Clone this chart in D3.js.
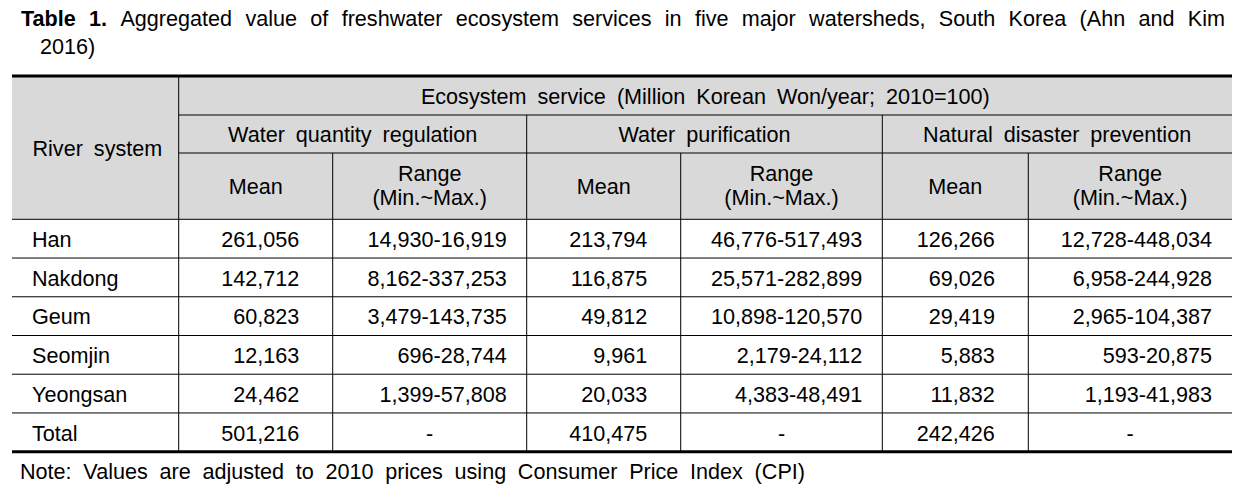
<!DOCTYPE html>
<html>
<head>
<meta charset="utf-8">
<script src="https://cdn.jsdelivr.net/npm/d3@7"></script>
<style>
  html, body { margin: 0; padding: 0; background: #fff; }
  svg text { font-family: "Liberation Sans", Arial, sans-serif; fill: #000; }
</style>
</head>
<body>
<svg id="chart" width="1256" height="504"></svg>
<script>
// ---- data ----
const titleBold = ["Table", "1."];
const titleWords = ["Aggregated", "value", "of", "freshwater", "ecosystem", "services", "in", "five", "major", "watersheds,", "South", "Korea", "(Ahn", "and", "Kim"];
const titleLine2 = "2016)";
const noteText = "Note: Values are adjusted to 2010 prices using Consumer Price Index (CPI)";
const topHeader = "Ecosystem service (Million Korean Won/year; 2010=100)";
const services = ["Water quantity regulation", "Water purification", "Natural disaster prevention"];
const subHeaders = ["Mean", "Range"];
const rangeSub = "(Min.~Max.)";
const rowHeader = "River system";
const rivers = ["Han", "Nakdong", "Geum", "Seomjin", "Yeongsan", "Total"];
const wqrMean = [261056, 142712, 60823, 12163, 24462, 501216];
const wqrRange = ["14,930-16,919", "8,162-337,253", "3,479-143,735", "696-28,744", "1,399-57,808", "-"];
const wpMean = [213794, 116875, 49812, 9961, 20033, 410475];
const wpRange = ["46,776-517,493", "25,571-282,899", "10,898-120,570", "2,179-24,112", "4,383-48,491", "-"];
const ndpMean = [126266, 69026, 29419, 5883, 11832, 242426];
const ndpRange = ["12,728-448,034", "6,958-244,928", "2,965-104,387", "593-20,875", "1,193-41,983", "-"];

// ---- layout ----
const FS = 21.6;
const colEdges = [12, 178.7, 332.7, 526.7, 680.7, 882.3, 1028.3, 1232];
const headTop = 76, h1 = 115, h2 = 153, headBottom = 219.3, tableBottom = 451.7;
const svg = d3.select("#chart");
const fmt = d3.format(",");

const y = d3.scaleBand().domain(d3.range(rivers.length)).range([headBottom, tableBottom]);

// header background
svg.append("rect").attr("x", colEdges[0]).attr("y", headTop).attr("width", colEdges[7] - colEdges[0])
  .attr("height", headBottom - headTop).attr("fill", "#d9d9d9");

// helper: justified words
function justify(g, words, x0, x1, yb, boldCount) {
  const items = words.map((w, i) => {
    const t = g.append("text").attr("y", yb).attr("font-size", FS)
      .attr("font-weight", i < boldCount ? "bold" : "normal").text(w);
    return { t, w: t.node().getComputedTextLength() };
  });
  const total = d3.sum(items, d => d.w);
  const gap = (x1 - x0 - total) / (items.length - 1);
  let x = x0;
  items.forEach(d => { d.t.attr("x", x); x += d.w + gap; });
}

const tg = svg.append("g");
justify(tg, titleBold.concat(titleWords), 21, 1225, 26, titleBold.length);
tg.append("text").attr("x", 40).attr("y", 54).attr("font-size", FS).text(titleLine2);
justify(svg.append("g"), noteText.split(" "), 20, 805, 479, 0);

// text helper
function txt(x, yb, s, anchor) {
  return svg.append("text").attr("x", x).attr("y", yb).attr("font-size", FS)
    .attr("text-anchor", anchor || "start").attr("word-spacing", "5px").text(s);
}

// header texts
txt((colEdges[0] + colEdges[1]) / 2 + 2, (headTop + headBottom) / 2 + 8, rowHeader, "middle");
txt((colEdges[1] + colEdges[7]) / 2, (headTop + h1) / 2 + 8, topHeader, "middle");
services.forEach((s, i) => {
  const a = colEdges[1 + 2 * i], b = colEdges[3 + 2 * i];
  txt((a + b) / 2, (h1 + h2) / 2 + 8, s, "middle");
  const m = colEdges[2 + 2 * i];
  txt((a + m) / 2, (h2 + headBottom) / 2 + 8, subHeaders[0], "middle");
  txt((m + b) / 2, (h2 + headBottom) / 2 - 5, subHeaders[1], "middle");
  txt((m + b) / 2, (h2 + headBottom) / 2 + 19, rangeSub, "middle");
});

// body
const means = [wqrMean, wpMean, ndpMean];
const ranges = [wqrRange, wpRange, ndpRange];
rivers.forEach((r, i) => {
  const yb = y(i) + y.bandwidth() / 2 + 8.3;
  txt(32, yb, r);
  means.forEach((arr, k) => {
    txt(colEdges[2 + 2 * k] - 33.4, yb, fmt(arr[i]), "end");
    const rv = ranges[k][i];
    const a = colEdges[2 + 2 * k], b = colEdges[3 + 2 * k];
    if (rv === "-") txt((a + b) / 2, yb, rv, "middle");
    else txt(b - 20, yb, rv, "end");
  });
});

// lines
function line(x1, y1, x2, y2, w) {
  svg.append("line").attr("x1", x1).attr("y1", y1).attr("x2", x2).attr("y2", y2)
    .attr("stroke", "#000").attr("stroke-width", w || 1);
}
line(colEdges[1], h1, colEdges[7], h1);
line(colEdges[1], h2, colEdges[7], h2);
line(colEdges[0], headBottom, colEdges[7], headBottom);
rivers.forEach((r, i) => { if (i > 0) line(colEdges[0], y(i), colEdges[7], y(i)); });
line(colEdges[1], headTop, colEdges[1], tableBottom);
[3, 5].forEach(k => line(colEdges[k], h1, colEdges[k], tableBottom));
[2, 4, 6].forEach(k => line(colEdges[k], h2, colEdges[k], tableBottom));
line(colEdges[0], headTop, colEdges[7], headTop, 3);
line(colEdges[0], tableBottom, colEdges[7], tableBottom, 3);
</script>
</body>
</html>
